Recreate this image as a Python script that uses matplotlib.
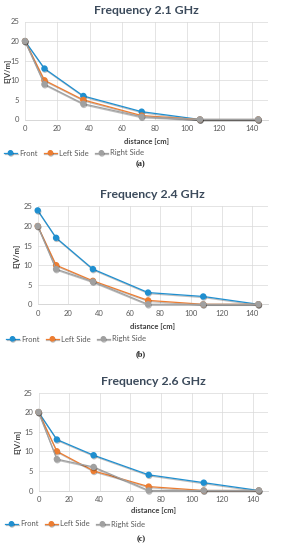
import matplotlib
matplotlib.use("Agg")
import matplotlib.pyplot as plt
import matplotlib.patheffects as pe

plt.rcParams['font.family'] = ['Lato', 'DejaVu Sans']

W, H = 281, 550

distance = [0, 12, 36, 72, 108, 144]
series_names = ["Front", "Left Side", "Right Side"]
colors = ["#1f8fd0", "#ed7d31", "#a0a0a0"]

titles = ["Frequency 2.1 GHz", "Frequency 2.4 GHz", "Frequency 2.6 GHz"]
captions = ["a", "b", "c"]

front_21 = [20, 13, 6, 2, 0, 0]
left_21 = [20, 10, 5, 1, 0, 0]
right_21 = [20, 9, 4, 0.7, 0, 0]

front_24 = [24, 17, 9, 3, 2, 0]
left_24 = [20, 10, 6, 1, 0, 0]
right_24 = [20, 9, 5.8, 0, 0, 0]

front_26 = [20, 13, 9, 4, 2, 0]
left_26 = [20, 10, 5, 1, 0, 0]
right_26 = [20, 8, 6, 0, 0, 0]

data = [
    [front_21, left_21, right_21],
    [front_24, left_24, right_24],
    [front_26, left_26, right_26],
]

x_ticks = [0, 20, 40, 60, 80, 100, 120, 140]
y_ticks = [0, 5, 10, 15, 20, 25]

# pixel boxes: left, right, top, bottom (axis 0 line)
boxes = [
    (25, 268, 21.5, 119.5),
    (37.7, 267.6, 206.5, 304.3),
    (38.5, 268, 392.5, 490.5),
]
title_y = [10, 195, 381.5]
xlabel_y = [141.5, 326.5, 510.5]
ylabel_x = [8, 17, 18]
legend_y = [153, 339, 524]
legend_x = [4, 6, 5]
caption_y = [164, 354, 539]

fig = plt.figure(figsize=(W / 100, H / 100), dpi=100)

for i in range(3):
    l, r, t, b = boxes[i]
    ax = fig.add_axes([l / W, 1 - b / H, (r - l) / W, (b - t) / H])
    handles = []
    for vals, name, c in zip(data[i], series_names, colors):
        h, = ax.plot(distance, vals, color=c, lw=0.9, marker='o', ms=3.6,
                     label=name, clip_on=False, zorder=3,
                     path_effects=[pe.SimpleLineShadow(offset=(0.4, -0.8), alpha=0.25),
                                   pe.Normal()])
        handles.append(h)
    ax.set_xlim(0, 150)
    ax.set_ylim(0, 25)
    ax.set_xticks(x_ticks)
    ax.set_yticks(y_ticks)
    ax.grid(True, color='#d9d9d9', lw=0.5)
    ax.set_axisbelow(True)
    for s in ['top', 'right', 'left']:
        ax.spines[s].set_visible(False)
    ax.spines['bottom'].set_color('#d0d0d0')
    ax.spines['bottom'].set_linewidth(0.6)
    ax.tick_params(length=0, labelsize=5.5, colors='#595959', pad=4)

    cx = (l + r) / 2
    fig.text(cx / W, 1 - title_y[i] / H, titles[i], ha='center', va='center',
             fontsize=8.8, fontweight='bold', color='#3b4a5b')
    fig.text(cx / W, 1 - xlabel_y[i] / H, "distance [cm]", ha='center', va='center',
             fontsize=5.5, fontweight='bold', color='#404040')
    fig.text(ylabel_x[i] / W, 1 - (t + b) / 2 / H, "E[V/m]", ha='center', va='center',
             rotation=90, fontsize=5.5, fontweight='bold', color='#404040')
    fig.legend(handles=handles, loc='center left',
               bbox_to_anchor=(legend_x[i] / W, 1 - legend_y[i] / H),
               ncol=3, frameon=False, fontsize=5.5, labelcolor='#595959',
               handlelength=1.7, handletextpad=0.3, columnspacing=0.8,
               markerscale=0.85, borderpad=0, borderaxespad=0)
    fig.text(141 / W, 1 - caption_y[i] / H, "(" + captions[i] + ")", ha='center',
             va='center', fontsize=6, fontweight='bold', color='#222222',
             family='Liberation Serif')

fig.savefig("out.png", dpi=100)
